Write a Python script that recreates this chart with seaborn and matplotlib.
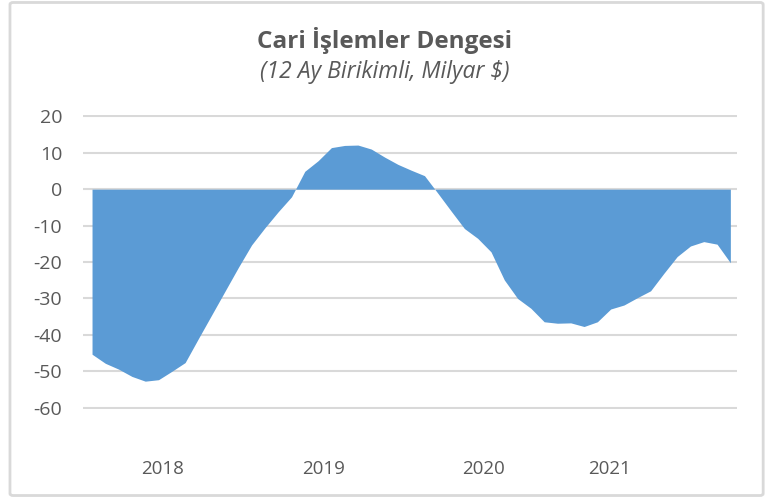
import numpy as np
import pandas as pd
import matplotlib.pyplot as plt
import seaborn as sns
from matplotlib.patches import FancyBboxPatch

# monthly, 12-month cumulative current account balance (bn USD)
months = pd.date_range('2018-01-01', periods=49, freq='MS')
balance = [-45.3, -47.8, -49.4, -51.4, -52.7, -52.3, -50.0, -47.6,
           -41.0, -34.5, -28.0, -21.5, -15.3, -10.6, -6.2, -2.1,
           4.9, 7.8, 11.4, 12.0, 12.1, 11.0, 8.8, 6.8, 5.2, 3.7,
           -1.1, -6.0, -10.8, -13.5, -17.2, -24.9, -30.0, -32.7,
           -36.4, -36.8, -36.7, -37.7, -36.4, -32.9, -31.8, -29.8,
           -27.9, -23.1, -18.5, -15.6, -14.4, -15.1, -20.2]
year_labels = ['2018', '2019', '2020', '2021']
year_label_pos = [5.3, 17.4, 29.4, 38.9]
y_ticks = [20, 10, 0, -10, -20, -30, -40, -50, -60]

df = pd.DataFrame({'month': months, 'balance': balance})
df['idx'] = np.arange(len(df))

sns.set_style('white')
plt.rcParams['font.family'] = ['Open Sans', 'DejaVu Sans']

fig = plt.figure(figsize=(7.67, 4.98), dpi=100)
ax = fig.add_axes([0.1082, 0.1790, 0.8527, 0.5897])

ax.fill_between(df['idx'], df['balance'], 0, color='#5B9BD5', lw=0)

ax.set_ylim(-60.3, 20.3)
ax.set_xlim(-0.68, 48.5)
ax.set_yticks(y_ticks)
ax.set_yticklabels([str(t) for t in y_ticks])
ax.set_xticks(year_label_pos)
ax.set_xticklabels(year_labels)
ax.yaxis.grid(True, color='#D9D9D9', lw=1.5)
ax.set_axisbelow(True)
for s in ax.spines.values():
    s.set_visible(False)
ax.tick_params(axis='y', length=0, pad=15, labelsize=14, labelcolor='#595959')
ax.tick_params(axis='x', length=0, pad=37, labelsize=13.5, labelcolor='#595959')

fig.text(0.501, 0.918, 'Cari İşlemler Dengesi', ha='center', va='center',
         fontsize=17.5, fontweight='bold', color='#595959')
fig.text(0.501, 0.856, '(12 Ay Birikimli, Milyar $)', ha='center', va='center',
         fontsize=16.5, style='italic', color='#595959')

border = FancyBboxPatch((0.013, 0.005), 0.982, 0.990, boxstyle='round,pad=0,rounding_size=0.004',
                        transform=fig.transFigure, fill=False, edgecolor='#D9D9D9', lw=2)
fig.patches.append(border)

fig.savefig('out.png', dpi=100)
